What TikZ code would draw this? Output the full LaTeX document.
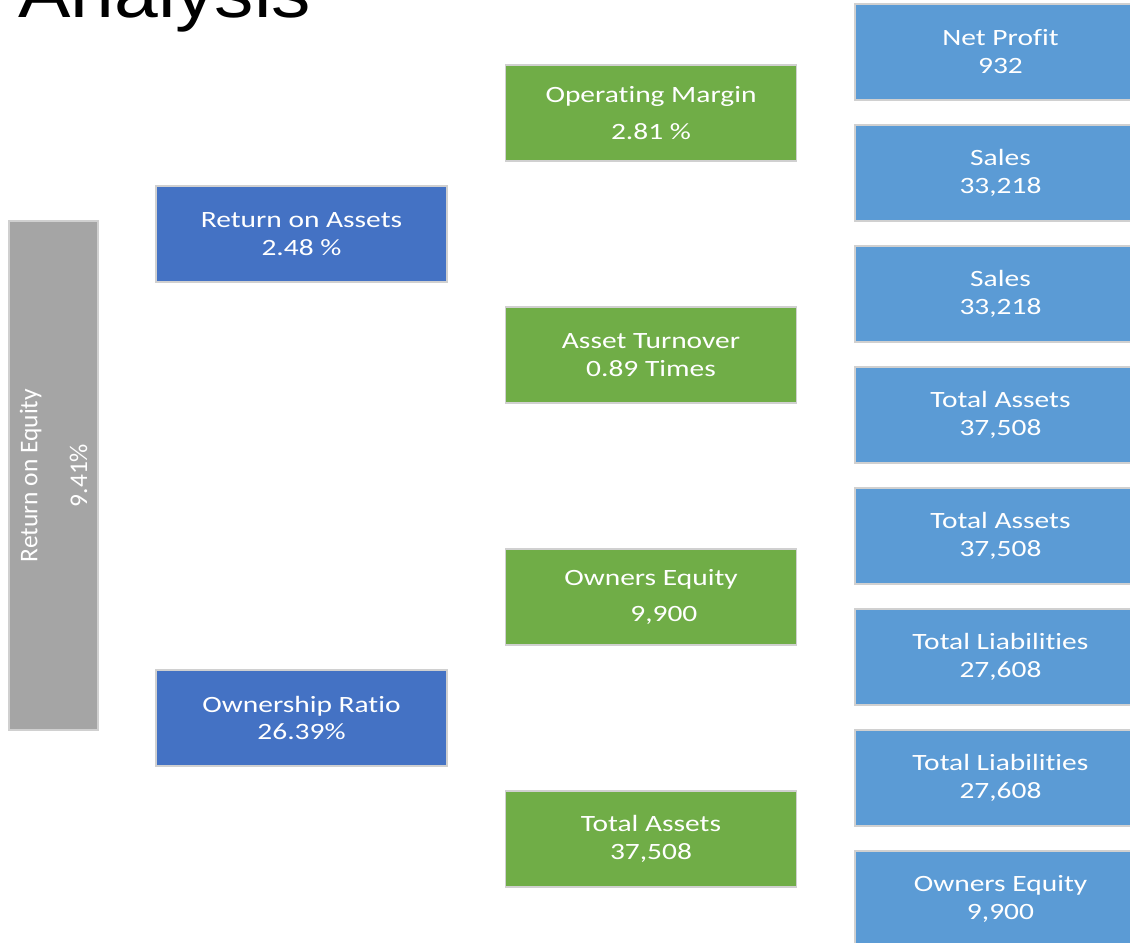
\documentclass[tikz,border=0pt]{standalone}
\usepackage{fontspec}
\setmainfont{Carlito}
\newfontfamily\boxfont[FakeStretch=1.26, RawFeature=-liga]{Carlito}
\newfontfamily\titlefont[FakeStretch=1.11]{Liberation Sans}

\definecolor{roegray}{HTML}{A5A5A5}
\definecolor{ratioblue}{HTML}{4472C4}
\definecolor{partgreen}{HTML}{70AD47}
\definecolor{itemblue}{HTML}{5B9BD5}
\definecolor{edgegray}{HTML}{D0D0D0}

\begin{document}
\begin{tikzpicture}[x=0.02cm, y=-0.02cm,
    ratiobox/.style={rectangle, draw=edgegray, line width=1pt, inner sep=0pt,
        minimum width=5.82cm, minimum height=1.92cm, text=white, align=center,
        font=\boxfont\fontsize{13.3}{15.9}\selectfont},
    toprow/.style={ratiobox, fill=ratioblue},
    midrow/.style={ratiobox, fill=partgreen},
    leafrow/.style={ratiobox, fill=itemblue}]
    \useasboundingbox (0,0) rectangle (1130,943);
    \clip (0,0) rectangle (1130,943);

    \node[anchor=base west, inner sep=0pt,
        font=\titlefont\fontsize{40.3}{48}\selectfont] (title) at (18,17) {Analysis};

    % return on equity
    \node[rectangle, draw=edgegray, line width=1pt, fill=roegray, inner sep=0pt,
        minimum width=10.18cm, minimum height=1.78cm, rotate=90, text=white,
        align=center, font=\fontsize{14.5}{28.3}\selectfont] (roe) at (53.5,475.5)
        {Return on Equity\\9.41\%};

    \node[toprow] (roa) at (301.5,234) {Return on Assets\\2.48 \%};
    \node[toprow] (own) at (301.5,718) {Ownership Ratio\\26.39\%};

    \node[midrow] (margin) at (651,113) {Operating Margin\\[5.5pt]2.81 \%};
    \node[midrow] (turn) at (651,355) {Asset Turnover\\0.89 Times};
    \node[midrow] (equity) at (651,597) {Owners Equity\\[5pt]\hspace{1.1em}9,900};
    \node[midrow] (assets) at (651,839) {Total Assets\\37,508};

    \node[leafrow] (profit) at (1000.5,52) {Net Profit\\932};
    \node[leafrow] (sales1) at (1000.5,173) {Sales\\33,218};
    \node[leafrow] (sales2) at (1000.5,294) {Sales\\33,218};
    \node[leafrow] (assets1) at (1000.5,415) {Total Assets\\37,508};
    \node[leafrow] (assets2) at (1000.5,536) {Total Assets\\37,508};
    \node[leafrow] (liab1) at (1000.5,657) {Total Liabilities\\27,608};
    \node[leafrow] (liab2) at (1000.5,778) {Total Liabilities\\27,608};
    \node[leafrow] (equity1) at (1000.5,899) {Owners Equity\\9,900};
\end{tikzpicture}
\end{document}
